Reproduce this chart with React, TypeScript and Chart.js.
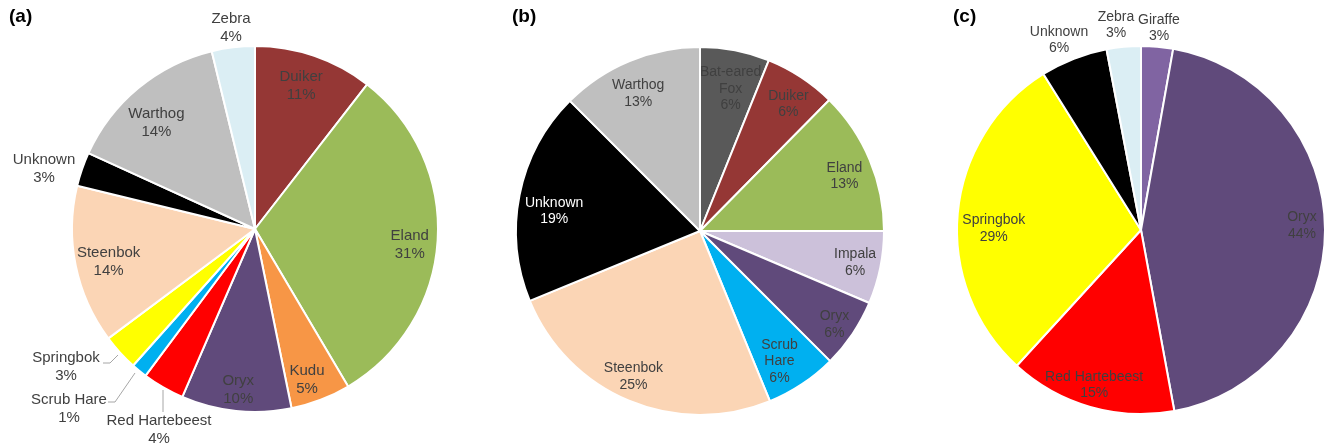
import React, { useEffect, useRef } from "react";
import { Chart, registerables } from "chart.js";

Chart.register(...registerables);

// ---------- Data ----------
const categoriesA = ["Duiker", "Eland", "Kudu", "Oryx", "Red Hartebeest", "Scrub Hare", "Springbok", "Steenbok", "Unknown", "Warthog", "Zebra"];
const valuesA = [10.5, 31.0, 5.3, 9.7, 3.7, 1.4, 3.2, 14.0, 3.0, 14.4, 3.8];

const categoriesB = ["Bat-eared Fox", "Duiker", "Eland", "Impala", "Oryx", "Scrub Hare", "Steenbok", "Unknown", "Warthog"];
const valuesB = [6.1, 6.3, 12.6, 6.4, 6.1, 6.3, 25.0, 18.7, 12.5];

const categoriesC = ["Giraffe", "Oryx", "Red Hartebeest", "Springbok", "Unknown", "Zebra"];
const valuesC = [2.8, 44.3, 14.7, 29.3, 5.9, 3.0];

// ---------- Styles ----------
const speciesColors: Record<string, string> = {
  "Duiker": "#953735",
  "Eland": "#9BBB59",
  "Kudu": "#F79646",
  "Oryx": "#604A7B",
  "Red Hartebeest": "#FF0000",
  "Scrub Hare": "#00B0F0",
  "Springbok": "#FFFF00",
  "Steenbok": "#FBD5B5",
  "Unknown": "#000000",
  "Warthog": "#BFBFBF",
  "Zebra": "#DBEEF4",
  "Bat-eared Fox": "#595959",
  "Impala": "#CCC1DA",
  "Giraffe": "#8064A2",
};

const FONT = '"Liberation Sans", Arial, sans-serif';
const TEXT = "#404040";

type Place = {
  r?: number; // radial fraction for in-slice labels
  da?: number; // angle nudge (deg)
  dx?: number; // explicit offset from pie centre (outside labels)
  dy?: number;
  wrap?: boolean;
  color?: string;
  leader?: number[][];
};

const placesA: Place[] = [
  { r: 0.82, da: -1 },
  { r: 0.85, da: 2.3 },
  { r: 0.87, da: 2 },
  { r: 0.885, da: 0 },
  { dx: -96, dy: 201, leader: [[-92, 161], [-92, 183]] },
  { dx: -186, dy: 180, leader: [[-147, 173], [-140, 173], [-120, 144]] },
  { dx: -189, dy: 138, leader: [[-152, 134], [-145, 134], [-137, 126]] },
  { r: 0.82, da: -1.2 },
  { dx: -211, dy: -60 },
  { r: 0.79, da: -3.4 },
  { dx: -24, dy: -201 },
];

const placesB: Place[] = [
  { r: 0.79, da: 1.2, wrap: true },
  { r: 0.84, da: 1.6 },
  { r: 0.84, da: 1.9 },
  { r: 0.86, da: 0 },
  { r: 0.89, da: 0.8 },
  { r: 0.83, da: 2.3, wrap: true },
  { r: 0.87, da: 1.9 },
  { r: 0.8, da: -3.6, color: "#FFFFFF" },
  { r: 0.82, da: -1.7 },
];

const placesC: Place[] = [
  { dx: 18, dy: -202 },
  { r: 0.875, da: -1.4 },
  { r: 0.88, da: 0.8 },
  { r: 0.8, da: -4.6 },
  { dx: -82, dy: -190 },
  { dx: -25, dy: -205 },
];

type PanelCfg = {
  tag: string;
  categories: string[];
  values: number[];
  places: Place[];
  left: number;
  width: number;
  padding: { left: number; right: number; top: number; bottom: number };
  radius: number;
  fontSize: number;
  lineH: number;
  tagX: number;
};

const panels: PanelCfg[] = [
  {
    tag: "(a)", categories: categoriesA, values: valuesA, places: placesA,
    left: 0, width: 490, padding: { left: 20, right: 0, top: 10, bottom: 0 },
    radius: 183, fontSize: 15, lineH: 18, tagX: 9,
  },
  {
    tag: "(b)", categories: categoriesB, values: valuesB, places: placesB,
    left: 490, width: 420, padding: { left: 0, right: 0, top: 14, bottom: 0 },
    radius: 184, fontSize: 14, lineH: 16.7, tagX: 22,
  },
  {
    tag: "(c)", categories: categoriesC, values: valuesC, places: placesC,
    left: 910, width: 415, padding: { left: 47, right: 0, top: 12, bottom: 0 },
    radius: 184, fontSize: 14, lineH: 16.7, tagX: 43,
  },
];

function makeLabelPlugin(cfg: PanelCfg) {
  return {
    id: "sliceLabels",
    afterDatasetsDraw(chart: any) {
      const ctx = chart.ctx as CanvasRenderingContext2D;
      const meta = chart.getDatasetMeta(0);
      ctx.save();
      // panel tag
      ctx.font = `bold 19px ${FONT}`;
      ctx.fillStyle = "#000";
      ctx.textAlign = "left";
      ctx.textBaseline = "middle";
      ctx.fillText(cfg.tag, cfg.tagX, 17);

      ctx.font = `${cfg.fontSize}px ${FONT}`;
      ctx.textAlign = "center";
      meta.data.forEach((arc: any, i: number) => {
        const p = arc.getProps(["x", "y", "startAngle", "endAngle", "outerRadius"], true);
        const pl = cfg.places[i] || {};
        let lx: number, ly: number;
        if (pl.dx !== undefined && pl.dy !== undefined) {
          lx = p.x + pl.dx;
          ly = p.y + pl.dy;
        } else {
          const mid = (p.startAngle + p.endAngle) / 2 + ((pl.da || 0) * Math.PI) / 180;
          const rr = (pl.r ?? 0.8) * p.outerRadius;
          lx = p.x + Math.cos(mid) * rr;
          ly = p.y + Math.sin(mid) * rr;
        }
        if (pl.leader) {
          ctx.strokeStyle = "#A6A6A6";
          ctx.lineWidth = 1;
          ctx.beginPath();
          pl.leader.forEach((pt, k) => {
            const X = p.x + pt[0];
            const Y = p.y + pt[1];
            if (k === 0) ctx.moveTo(X, Y);
            else ctx.lineTo(X, Y);
          });
          ctx.stroke();
        }
        const name = cfg.categories[i];
        const lines = pl.wrap ? name.split(" ") : [name];
        lines.push(Math.round(cfg.values[i]) + "%");
        ctx.fillStyle = pl.color || TEXT;
        const n = lines.length;
        lines.forEach((t, k) => {
          ctx.fillText(t, lx, ly + (k - (n - 1) / 2) * cfg.lineH);
        });
      });
      ctx.restore();
    },
  };
}

function PiePanel({ cfg }: { cfg: PanelCfg }) {
  const ref = useRef<HTMLCanvasElement>(null);
  useEffect(() => {
    if (!ref.current) return;
    const chart = new Chart(ref.current, {
      type: "pie",
      data: {
        labels: cfg.categories,
        datasets: [
          {
            data: cfg.values,
            backgroundColor: cfg.categories.map((c) => speciesColors[c]),
            borderColor: "#FFFFFF",
            borderWidth: 2,
          },
        ],
      },
      options: {
        animation: false,
        responsive: false,
        radius: cfg.radius,
        events: [],
        layout: { padding: cfg.padding },
        plugins: {
          legend: { display: false },
          tooltip: { enabled: false },
        },
      } as any,
      plugins: [makeLabelPlugin(cfg)],
    });
    return () => chart.destroy();
  }, [cfg]);
  return (
    <canvas
      ref={ref}
      width={cfg.width}
      height={448}
      style={{ position: "absolute", left: cfg.left, top: 0, width: cfg.width, height: 448 }}
    />
  );
}

export default function App() {
  return (
    <div
      style={{
        position: "absolute",
        left: 0,
        top: 0,
        width: 1325,
        height: 448,
        background: "#FFFFFF",
        overflow: "hidden",
      }}
    >
      {panels.map((p) => (
        <PiePanel key={p.tag} cfg={p} />
      ))}
    </div>
  );
}
